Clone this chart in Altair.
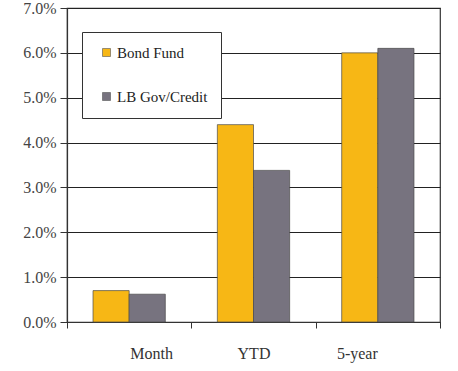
import altair as alt
import pandas as pd

periods = ["Month", "YTD", "5-year"]
series = ["Bond Fund", "LB Gov/Credit"]
bond_fund = [0.0070, 0.0440, 0.0600]
lb_gov_credit = [0.0062, 0.0338, 0.0610]
y_ticks = [0.0, 0.01, 0.02, 0.03, 0.04, 0.05, 0.06, 0.07]
colors = ["#F7B715", "#77737F"]

rows = []
for i, p in enumerate(periods):
    rows.append({"period": p, "series": series[0], "value": bond_fund[i]})
    rows.append({"period": p, "series": series[1], "value": lb_gov_credit[i]})
df = pd.DataFrame(rows)

font = "Liberation Serif"

chart = (
    alt.Chart(df)
    .mark_bar(stroke="#4a4a4a", strokeWidth=0.7)
    .encode(
        x=alt.X(
            "period:N",
            sort=periods,
            scale=alt.Scale(paddingInner=0, paddingOuter=0),
            axis=alt.Axis(
                title=None,
                labelAngle=0,
                labelFont=font,
                labelFontSize=16,
                labelColor="#333",
                labelPadding=17,
                labelOffset={
                    "condition": [
                        {"test": "datum.value === 'Month'", "value": 22},
                        {"test": "datum.value === '5-year'", "value": -21},
                    ],
                    "value": 0,
                },
                tickBand="extent",
                tickSize=6,
                tickColor="#333",
                domainColor="#333",
                domainWidth=1.2,
                grid=False,
            ),
        ),
        xOffset=alt.XOffset(
            "series:N", sort=series, scale=alt.Scale(paddingOuter=0.72, paddingInner=0)
        ),
        y=alt.Y(
            "value:Q",
            scale=alt.Scale(domain=[0, 0.07], nice=False),
            axis=alt.Axis(
                title=None,
                values=y_ticks,
                format=".1%",
                labelFont=font,
                labelFontSize=16,
                labelColor="#444",
                labelPadding=4,
                tickSize=7,
                tickColor="#333",
                domainColor="#333",
                domainWidth=1.2,
                grid=True,
                gridColor="#222",
                gridWidth=1.2,
            ),
        ),
        color=alt.Color(
            "series:N",
            sort=series,
            scale=alt.Scale(domain=series, range=colors),
            legend=alt.Legend(
                title=None,
                orient="none",
                legendX=15,
                legendY=24,
                direction="vertical",
                fillColor="white",
                strokeColor="#333",
                padding=13,
                rowPadding=28,
                symbolType="square",
                symbolSize=64,
                symbolStrokeColor="#555",
                symbolStrokeWidth=0.6,
                symbolOffset=4,
                labelFont=font,
                labelFontSize=15,
                labelColor="#222",
                labelOffset=3,
                labelLimit=200,
            ),
        ),
    )
    .properties(
        width=373,
        height=314,
        padding={"left": 67, "top": 8, "right": 18, "bottom": 49},
        autosize=alt.AutoSizeParams(type="none"),
        background="white",
    )
    .configure(font=font)
    .configure_view(stroke="#333", strokeWidth=1.2)
)

chart.save("out.html", embed_options={"renderer": "svg", "actions": False})
